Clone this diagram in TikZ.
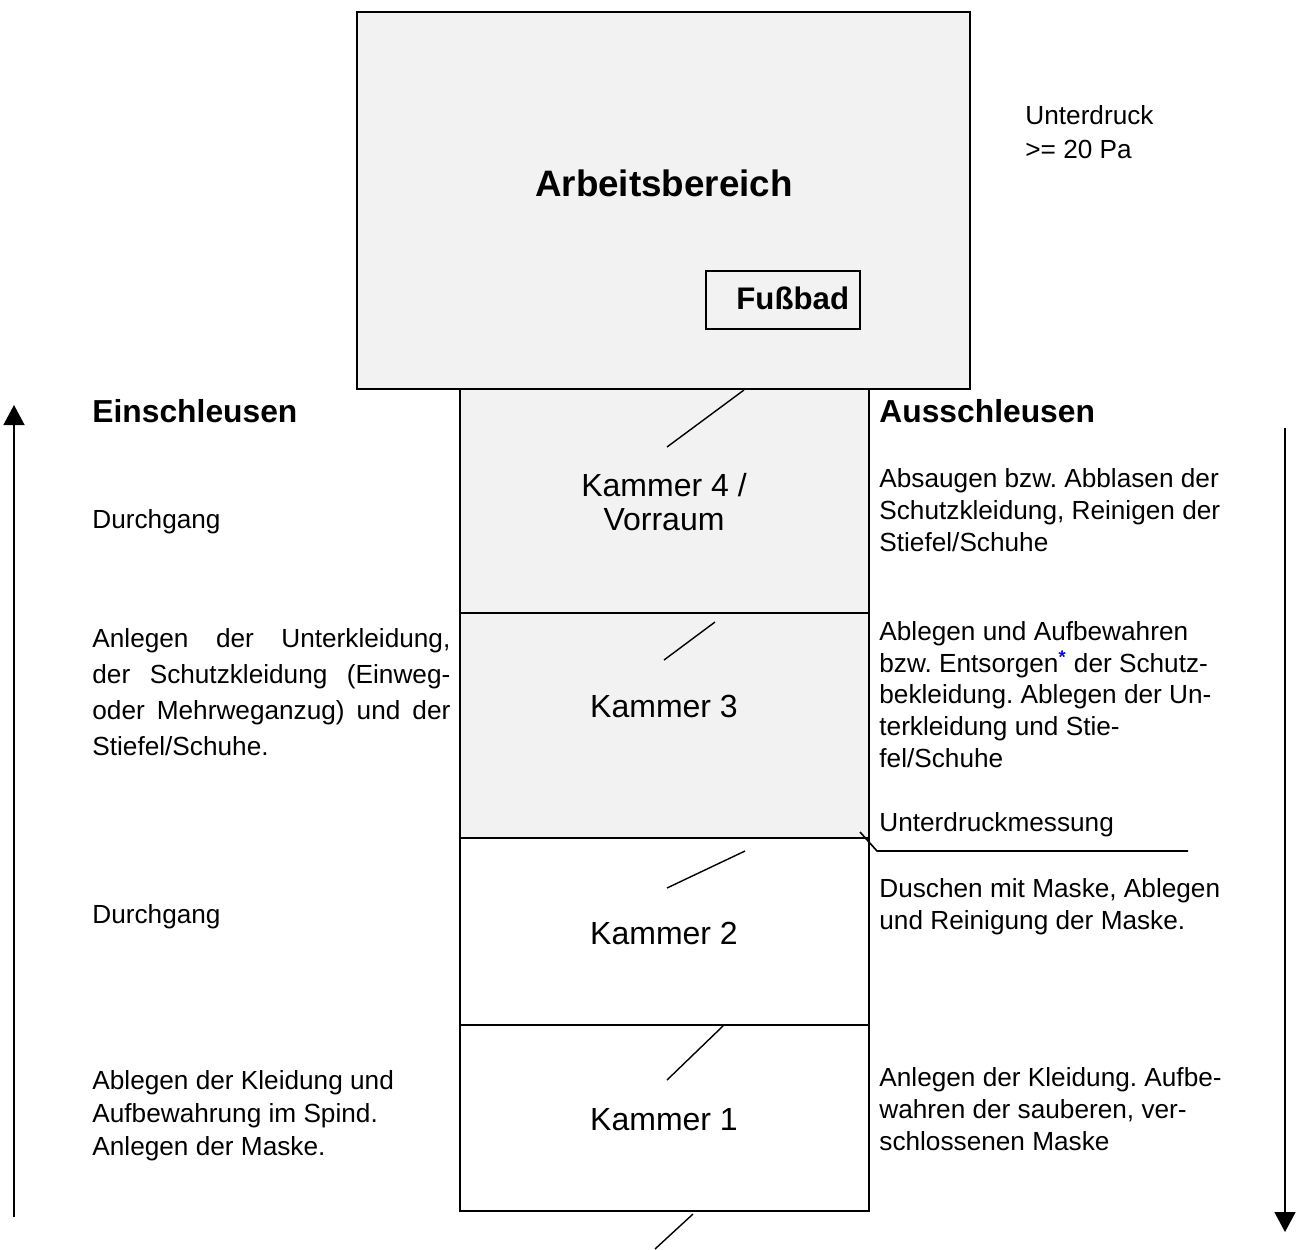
\documentclass[tikz,border=0pt]{standalone}
\usepackage{fontspec}
\setmainfont{Liberation Sans}
\usetikzlibrary{arrows.meta}
\definecolor{roomgray}{RGB}{242,242,242}
\newcommand{\fullline}[1]{\makebox[179pt][s]{#1}}
\frenchspacing

\begin{document}
\begin{tikzpicture}[x=0.5pt,y=-0.5pt]
	\useasboundingbox (0,0) rectangle (1300,1249);
	% rooms
	\begin{scope}[line width=1pt]
	\draw [fill=roomgray] (460,389) rectangle (869,613);
	\draw [fill=roomgray] (460,613) rectangle (869,838);
	\draw (460,838) rectangle (869,1025);
	\draw (460,1025) rectangle (869,1211);
	\draw [fill=roomgray] (357,12) rectangle (970,389);
	\end{scope}
	\draw [line width=0.6pt,fill=roomgray] (706,271) rectangle (860,329);
	% doors
	\begin{scope}[line width=0.7pt]
	\draw (667,447) -- (744,390);
	\draw (664,660) -- (715,622);
	\draw (667,888) -- (745,851);
	\draw (667,1080) -- (724,1025);
	\draw (655,1249) -- (693,1214);
	\end{scope}
	% texts (multi-line nodes sit on the baseline of their last line)
	\begin{scope}[every node/.style={anchor=base west,inner sep=0pt,align=left,font=\fontsize{13.1}{15.8}\selectfont}]
	\node (A) at (664,196) [anchor=base,font=\fontsize{18.4}{22}\selectfont\bfseries] {Arbeitsbereich};
	\node (F) at (736,309) [font=\fontsize{15.6}{19}\selectfont\bfseries] {Fußbad};
	\node (U) at (1025,158) [font=\fontsize{13.1}{17}\selectfont] {Unterdruck\\>= 20 Pa};
	\node (K4) at (664,530) [anchor=base,align=center,font=\fontsize{16}{17}\selectfont] {Kammer 4 /\\Vorraum};
	\node (K3) at (664,717) [anchor=base,font=\fontsize{16}{17}\selectfont] {Kammer 3};
	\node (K2) at (664,944) [anchor=base,font=\fontsize{16}{17}\selectfont] {Kammer 2};
	\node (K1) at (664,1130) [anchor=base,font=\fontsize{16}{17}\selectfont] {Kammer 1};
	\node (ein) at (92,422) [font=\fontsize{15.9}{19}\selectfont\bfseries] {Einschleusen};
	\node (aus) at (879,422) [font=\fontsize{15.9}{19}\selectfont\bfseries] {Ausschleusen};
	\node (E4) at (92,528) {Durchgang};
	\node (E3) at (92,755) [font=\fontsize{13.1}{17.85}\selectfont] {\fullline{Anlegen der Unterkleidung,}\\\fullline{der Schutzkleidung (Einweg-}\\\fullline{oder Mehrweganzug) und der}\\Stiefel/Schuhe.};
	\node (E2) at (92,923) {Durchgang};
	\node (E1) at (92,1155) [font=\fontsize{13.1}{16.5}\selectfont] {Ablegen der Kleidung und\\Aufbewahrung im Spind.\\Anlegen der Maske.};
	\node (A4) at (879,551) {Absaugen bzw. Abblasen der\\Schutzkleidung, Reinigen der\\Stiefel/Schuhe};
	\node (A3) at (879,767) {Ablegen und Aufbewahren\\bzw. Entsorgen\textsuperscript{\textcolor{blue}{\bfseries *}} der Schutz-\\bekleidung. Ablegen der Un-\\terkleidung und Stie-\\fel/Schuhe};
	\node (M) at (879,831) {Unterdruckmessung};
	\node (A2) at (879,929) {Duschen mit Maske, Ablegen\\und Reinigung der Maske.};
	\node (A1) at (879,1150) {Anlegen der Kleidung. Aufbe-\\wahren der sauberen, ver-\\schlossenen Maske};
	\end{scope}
	% measuring line
	\coordinate (m1) at (860,832);
	\coordinate (m2) at (877,851);
	\coordinate (m3) at (1188,851);
	\draw [line width=0.8pt] (m1) -- (m2) -- (m3);
	% direction arrows
	\coordinate (inS) at (14,1217);
	\coordinate (inE) at (14,405);
	\coordinate (outS) at (1285,428);
	\coordinate (outE) at (1285,1232);
	\draw [line width=0.7pt,-{Triangle[length=10pt,width=10.5pt]}] (inS) -- (inE);
	\draw [line width=0.7pt,-{Triangle[length=10pt,width=10.5pt]}] (outS) -- (outE);
\end{tikzpicture}
\end{document}
